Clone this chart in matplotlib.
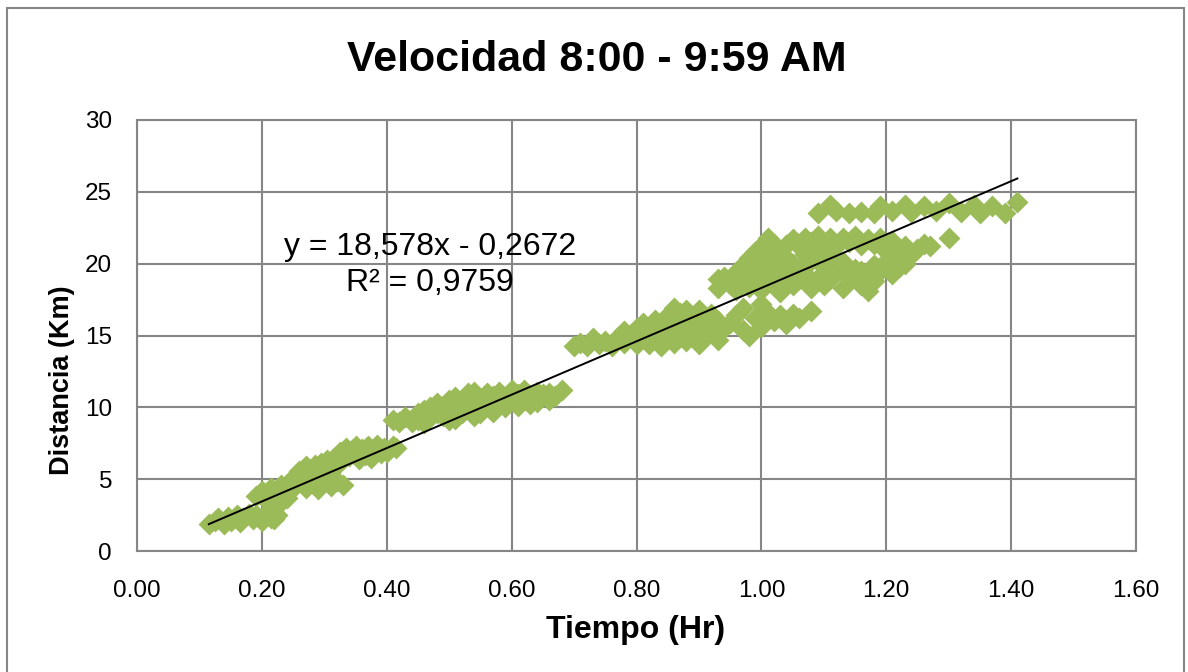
import matplotlib
matplotlib.use("Agg")
import matplotlib.pyplot as plt
from matplotlib.patches import Rectangle
import numpy as np

# ---------------- data ----------------
titulo = "Velocidad 8:00 - 9:59 AM"
etiqueta_x = "Tiempo (Hr)"
etiqueta_y = "Distancia (Km)"
ecuacion = "y = 18,578x - 0,2672"
r2_texto = "R² = 0,9759"
pendiente = 18.578
intercepto = -0.2672

x_ticks = [0.00, 0.20, 0.40, 0.60, 0.80, 1.00, 1.20, 1.40, 1.60]
y_ticks = [0, 5, 10, 15, 20, 25, 30]

# segment A: first kilometres
tiempo_a = [0.115, 0.125, 0.13, 0.14, 0.145, 0.15, 0.16, 0.165, 0.17, 0.18, 0.185,
            0.19, 0.20, 0.205, 0.21, 0.215, 0.22, 0.225]
dist_a = [1.9, 2.1, 2.3, 1.9, 2.4, 2.1, 2.5, 2.0, 2.3, 2.6, 2.2,
          2.5, 2.1, 2.4, 2.7, 2.3, 2.2, 2.5]

# segment B
tiempo_b = [0.19, 0.20, 0.205, 0.21, 0.215, 0.22, 0.225, 0.23, 0.235, 0.24, 0.245,
            0.25, 0.255, 0.26, 0.265, 0.27, 0.275, 0.28, 0.285, 0.29, 0.295, 0.30,
            0.305, 0.31, 0.315, 0.32, 0.325, 0.33, 0.335, 0.34, 0.345, 0.35, 0.355,
            0.36, 0.365, 0.37, 0.375, 0.38, 0.385, 0.39, 0.395, 0.40, 0.41, 0.415,
            0.27, 0.28, 0.29, 0.30, 0.31, 0.32, 0.33, 0.22, 0.23, 0.24]
dist_b = [3.8, 4.2, 3.6, 4.0, 4.4, 3.9, 4.3, 4.6, 4.1, 4.5, 4.9,
          4.4, 5.0, 5.6, 4.8, 5.9, 5.2, 5.7, 6.0, 5.4, 6.1, 5.8,
          6.3, 5.6, 6.5, 6.0, 6.9, 6.4, 7.2, 6.6, 7.0, 7.3, 6.4,
          7.1, 6.7, 7.3, 6.5, 7.0, 7.4, 6.8, 7.2, 6.9, 7.3, 7.2,
          4.4, 4.7, 4.3, 4.8, 4.5, 4.9, 4.6, 3.2, 3.4, 3.7]

# segment C
tiempo_c = [0.41, 0.42, 0.43, 0.44, 0.45, 0.45, 0.46, 0.47, 0.47, 0.48, 0.48, 0.49,
            0.49, 0.50, 0.50, 0.51, 0.51, 0.52, 0.52, 0.53, 0.53, 0.54, 0.54, 0.55,
            0.55, 0.56, 0.56, 0.57, 0.57, 0.58, 0.58, 0.59, 0.60, 0.60, 0.61, 0.61,
            0.62, 0.62, 0.63, 0.64, 0.64, 0.65, 0.66, 0.67, 0.68, 0.46, 0.50, 0.54,
            0.57, 0.59, 0.63, 0.66]
dist_c = [9.1, 9.0, 9.3, 9.0, 9.6, 9.1, 9.8, 9.3, 10.0, 9.6, 10.3, 9.4,
          10.1, 10.5, 9.7, 9.2, 10.7, 10.2, 9.6, 11.0, 9.9, 11.1, 10.3, 10.6,
          9.6, 11.0, 10.2, 10.8, 10.0, 11.1, 10.4, 10.7, 11.2, 10.5, 10.1, 10.9,
          11.2, 10.5, 10.8, 11.1, 10.4, 10.9, 11.0, 10.8, 11.2, 8.9, 9.1, 9.4,
          9.7, 10.0, 10.2, 10.5]

# segment D
tiempo_d = [0.70, 0.71, 0.72, 0.73, 0.74, 0.75, 0.76, 0.77, 0.78, 0.78, 0.79, 0.80,
            0.80, 0.81, 0.81, 0.82, 0.82, 0.83, 0.83, 0.84, 0.84, 0.85, 0.85, 0.86,
            0.86, 0.87, 0.87, 0.88, 0.88, 0.89, 0.89, 0.90, 0.90, 0.91, 0.91, 0.92,
            0.92, 0.93, 0.93, 0.94, 0.86, 0.88, 0.90, 0.84, 0.87, 0.92]
dist_d = [14.3, 14.5, 14.3, 14.8, 14.4, 14.6, 14.3, 14.9, 15.3, 14.5, 15.0, 15.5,
          14.4, 15.9, 14.8, 15.3, 14.4, 16.1, 14.8, 15.6, 14.3, 16.4, 15.0, 15.8,
          14.5, 16.6, 15.3, 16.8, 14.6, 16.2, 15.1, 16.8, 14.4, 15.7, 14.9, 16.5,
          15.2, 16.0, 14.7, 15.5, 16.9, 15.9, 15.4, 15.1, 14.9, 15.8]

# segment E (lower branch)
tiempo_e1 = [0.95, 0.96, 0.97, 0.98, 0.99, 1.00, 1.01, 1.02, 1.03, 1.04, 1.05, 1.06,
             1.08, 0.97, 1.00]
dist_e1 = [15.9, 16.4, 15.4, 15.0, 16.2, 15.6, 16.6, 16.0, 16.4, 15.8, 16.5, 16.2,
           16.7, 16.9, 17.2]

# segment E (dense cloud)
tiempo_e2 = [0.93, 0.93, 0.94, 0.95, 0.96, 0.96, 0.97, 0.97, 0.98, 0.98, 0.98, 0.99,
             0.99, 0.99, 1.00, 1.00, 1.00, 1.00, 1.01, 1.01, 1.01, 1.02, 1.02, 1.02,
             1.03, 1.03, 1.03, 1.04, 1.04, 1.04, 1.05, 1.05, 1.05, 1.06, 1.06, 1.06,
             1.07, 1.07, 1.07, 1.08, 1.08, 1.08, 1.09, 1.09, 1.09, 1.10, 1.10, 1.10,
             1.11, 1.11, 1.11, 1.12, 1.12, 1.13, 1.13, 1.13, 1.14, 1.14, 1.15, 1.15,
             1.16, 1.16, 1.17, 1.17, 1.18, 1.18, 1.19, 1.19]
dist_e2 = [18.9, 18.3, 19.1, 18.6, 19.4, 18.2, 19.9, 18.8, 20.4, 19.3, 18.4, 20.8,
           19.7, 18.9, 21.2, 20.1, 19.0, 18.2, 21.8, 20.6, 19.5, 21.4, 20.2, 18.6,
           20.9, 19.8, 18.0, 21.3, 20.4, 19.2, 21.7, 20.0, 18.5, 21.2, 19.6, 18.9,
           21.8, 20.7, 19.3, 21.5, 20.2, 18.3, 21.9, 20.9, 19.0, 21.4, 19.8, 18.5,
           21.8, 20.5, 18.9, 21.2, 19.4, 21.8, 20.1, 18.3, 21.5, 19.0, 21.9, 19.6,
           21.3, 18.5, 21.7, 18.1, 21.4, 18.8, 21.8, 19.5]

# segment F (lower right cluster)
tiempo_f1 = [1.20, 1.21, 1.21, 1.22, 1.22, 1.23, 1.23, 1.24, 1.25, 1.26, 1.27, 1.30,
             1.16, 1.17, 1.18, 1.20]
dist_f1 = [20.2, 19.3, 21.6, 20.6, 19.8, 21.2, 20.0, 20.6, 21.0, 21.4, 21.2, 21.8,
           19.5, 18.9, 19.9, 20.9]

# segment F (top row)
tiempo_f2 = [1.09, 1.11, 1.12, 1.14, 1.16, 1.18, 1.19, 1.21, 1.23, 1.24, 1.26, 1.28,
             1.30, 1.32, 1.34, 1.35, 1.37, 1.39, 1.41]
dist_f2 = [23.5, 24.1, 23.7, 23.5, 23.6, 23.5, 24.0, 23.7, 24.1, 23.6, 24.0, 23.7,
           24.2, 23.6, 24.1, 23.5, 24.0, 23.5, 24.3]

# ---------------- figure ----------------
verde = "#9BBB59"
gris = "#868686"

fig = plt.figure(figsize=(11.88, 6.72), dpi=100)
ax = fig.add_axes([137 / 1188, 1 - 551 / 672, (1136 - 137) / 1188, (551 - 120) / 672])

tiempo = (tiempo_a + tiempo_b + tiempo_c + tiempo_d + tiempo_e1 + tiempo_e2
          + tiempo_f1 + tiempo_f2)
distancia = (dist_a + dist_b + dist_c + dist_d + dist_e1 + dist_e2
             + dist_f1 + dist_f2)

ax.scatter(tiempo, distancia, marker="D", s=125, color=verde, linewidths=0, zorder=3)

xl = np.array([min(tiempo), max(tiempo)])
ax.plot(xl, pendiente * xl + intercepto, color="black", lw=1.4, zorder=4)

ax.set_xlim(0, 1.6)
ax.set_ylim(0, 30)
ax.set_xticks(x_ticks)
ax.set_yticks(y_ticks)
ax.set_xticklabels([f"{v:.2f}" for v in x_ticks])
ax.set_yticklabels([str(v) for v in y_ticks])
ax.tick_params(axis="both", length=0, labelsize=17.5, labelcolor="black")
ax.tick_params(axis="x", pad=21)
ax.tick_params(axis="y", pad=18)
for lab in ax.get_xticklabels() + ax.get_yticklabels():
    lab.set_fontfamily("Liberation Sans")

ax.grid(True, color=gris, lw=1.5, zorder=0)
ax.set_axisbelow(True)
for s in ax.spines.values():
    s.set_color(gris)
    s.set_linewidth(1.5)

ax.text(0.469, 21.15, ecuacion, ha="center", va="center", fontsize=23,
        family="Liberation Sans", zorder=5)
ax.text(0.469, 18.65, r2_texto, ha="center", va="center", fontsize=23,
        family="Liberation Sans", zorder=5)

fig.text(597 / 1188, 1 - 60 / 672, titulo, ha="center", va="center", fontsize=31,
         fontweight="bold", family="Liberation Sans")
fig.text(636 / 1188, 1 - 630 / 672, etiqueta_x, ha="center", va="center", fontsize=23,
         fontweight="bold", family="Liberation Sans")
fig.text(62 / 1188, 1 - 380 / 672, etiqueta_y, ha="center", va="center", fontsize=19.5,
         fontweight="bold", family="Liberation Sans", rotation=90)

fig.patches.append(Rectangle((7 / 1188, -0.05), 1177 / 1188, 1.05 - 8 / 672,
                             transform=fig.transFigure, fill=False,
                             edgecolor=gris, lw=1.5))

fig.savefig("out.png", dpi=100)
